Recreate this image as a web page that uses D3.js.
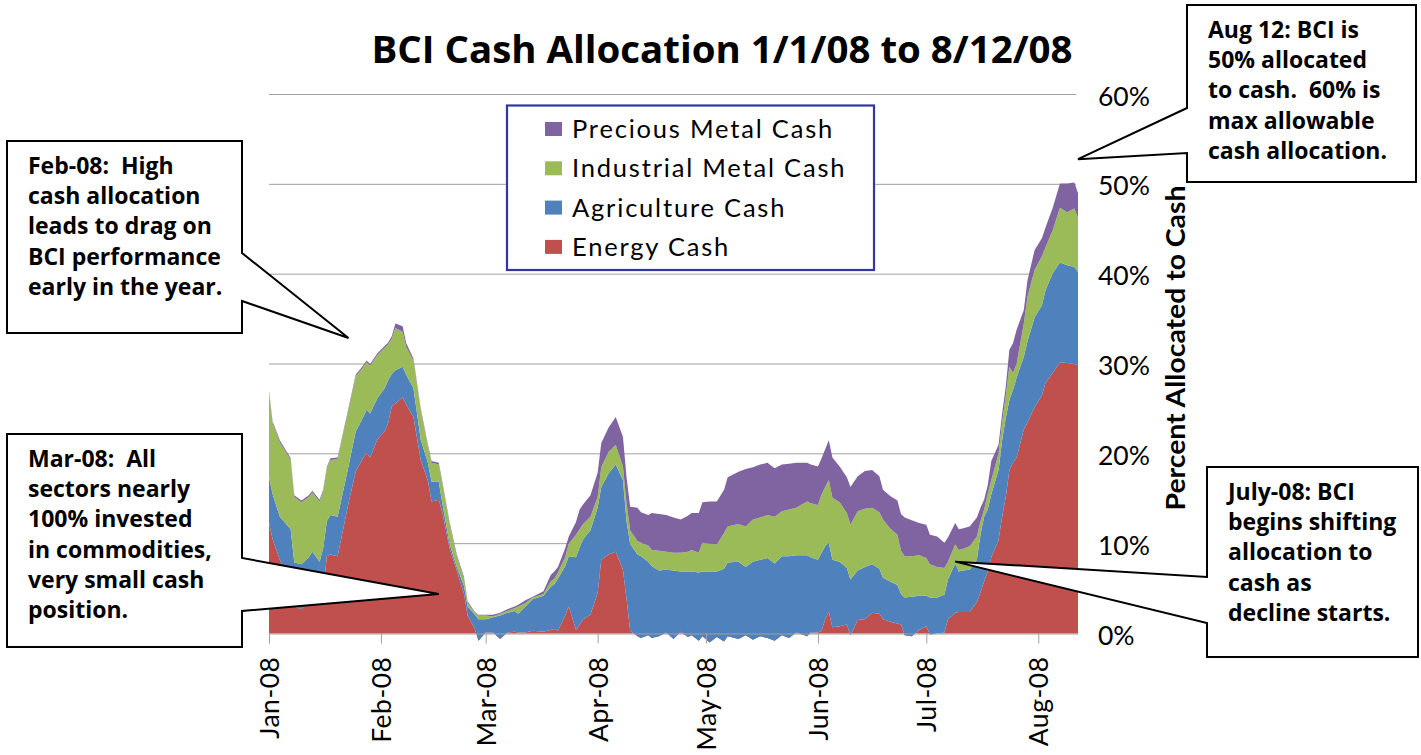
<!DOCTYPE html>
<html>
<head>
<meta charset="utf-8">
<script src="https://cdn.jsdelivr.net/npm/d3@7"></script>
<style>
  body { margin: 0; background: #fff; }
  svg { display: block; }
  text {
    font-variant-ligatures: none;
    font-feature-settings: "liga" 0, "clig" 0, "dlig" 0;
  }
</style>
</head>
<body>
<div id="chart"></div>
<script>
// data (percent of index allocated to cash)
const dates = ["1/1","1/2","1/4","1/7","1/8","1/10","1/12","1/13","1/15","1/16",
  "1/17","1/18","1/20","1/23","1/25","1/27","1/28","1/29","1/31","2/2",
  "2/3","2/4","2/5","2/7","2/8","2/10","2/12","2/14","2/15","2/17",
  "2/18","2/20","2/22","2/24","2/25","2/27","2/28","3/1","3/3","3/5",
  "3/7","3/9","3/10","3/12","3/14","3/17","3/19","3/20","3/21","3/23",
  "3/24","3/26","3/27","3/28","3/30","4/1","4/2","4/4","4/6","4/8",
  "4/9","4/10","4/12","4/13","4/15","4/16","4/18","4/20","4/22","4/24",
  "4/26","4/27","4/29","4/30","5/2","5/4","5/6","5/7","5/10","5/12",
  "5/14","5/16","5/18","5/20","5/22","5/24","5/26","5/29","5/30","6/1",
  "6/2","6/3","6/4","6/5","6/7","6/9","6/10","6/12","6/14","6/16",
  "6/18","6/19","6/21","6/23","6/24","6/25","6/27","6/29","7/1","7/2",
  "7/4","7/6","7/7","7/9","7/10","7/11","7/13","7/15","7/16","7/17",
  "7/18","7/19","7/21","7/22","7/23","7/24","7/25","7/26","7/28","7/29",
  "7/31","8/2","8/3","8/5","8/7","8/9","8/11","8/12"];

const energy = [12.3,10.5,8.2,5.5,3.0,2.7,3.5,4.5,4.0,4.5,
  8.6,8.8,8.6,14.5,18.0,19.5,20.1,19.6,21.6,22.5,
  23.4,25.3,25.6,26.3,25.5,24.1,19.3,17.0,14.7,14.9,
  13.5,9.5,7.0,4.4,2.0,0.5,-0.8,0.1,0.1,-0.6,
  0.1,0.2,0.1,0.1,0.3,0.2,0.4,0.5,0.3,2.0,
  3.0,0.4,1.0,1.6,2.1,4.5,8.2,8.8,9.1,7.1,
  3.8,0.3,-0.3,-0.5,-0.2,-0.5,-0.3,0.1,-0.6,0.2,
  -0.4,-0.2,-0.8,-0.3,-1.0,-0.4,-0.9,-0.3,-0.6,-0.2,
  -0.7,-0.3,-0.5,-0.8,-0.2,-0.5,0.1,-0.3,0.1,0.1,
  0.3,1.6,2.4,0.7,0.8,1.0,-0.2,1.5,1.6,2.3,
  2.2,1.6,1.3,1.1,1.0,-0.2,-0.3,0.4,0.8,-0.1,
  0.0,0.1,1.6,2.3,2.4,2.4,2.4,3.5,4.6,5.8,
  6.9,8.5,10.4,13.0,15.2,18.2,19.0,19.6,22.7,23.5,
  25.2,26.5,27.9,29.0,30.2,30.1,30.0,29.9];

const agriculture = [5.1,5.0,4.8,6.1,4.9,5.0,5.0,4.6,4.0,5.0,
  3.9,4.4,4.4,4.1,4.5,4.5,4.8,4.9,4.6,4.8,
  4.8,3.6,3.7,3.4,3.3,3.2,2.3,2.0,2.2,2.0,
  1.0,0.5,0.4,0.9,1.0,1.6,2.4,1.5,1.7,2.6,
  2.2,2.3,2.1,2.9,3.5,4.0,4.8,5.0,5.8,5.5,
  5.6,8.1,8.6,8.9,9.4,9.5,8.1,9.0,9.7,10.0,
  8.7,9.7,9.1,9.1,8.2,8.0,7.3,7.0,7.6,6.7,
  7.3,7.1,7.6,7.2,7.9,7.3,8.1,8.2,8.6,7.6,
  8.7,8.5,8.9,8.6,8.8,9.1,8.6,9.0,8.4,8.1,
  8.7,8.1,7.7,7.5,7.2,6.3,6.2,5.5,5.8,5.4,
  5.0,4.6,4.5,4.3,3.4,4.2,4.4,3.8,3.4,4.1,
  4.0,4.2,4.4,5.5,4.5,4.6,4.7,4.7,6.4,7.2,
  6.9,7.0,7.8,8.5,8.8,7.8,8.1,8.9,8.1,9.0,
  10.0,10.0,10.3,11.1,11.1,10.9,10.8,10.3];

const industrial = [9.4,7.9,8.3,7.7,7.3,6.9,6.7,6.6,6.7,6.3,
  5.8,6.1,6.4,6.3,6.1,5.6,5.3,5.3,4.8,4.5,
  4.0,3.9,4.7,3.9,3.1,3.1,3.3,1.8,2.1,1.9,
  2.2,2.2,1.2,0.8,0.4,0.2,0.4,0.4,0.1,0.2,
  0.2,0.3,0.8,0.4,0.2,0.2,0.6,0.6,0.7,1.0,
  1.4,2.5,2.0,1.7,1.5,1.2,2.2,2.4,2.2,1.5,
  2.0,1.5,1.5,1.5,1.8,1.8,2.2,2.0,2.0,2.1,
  2.2,2.4,2.2,3.2,3.1,3.0,4.0,4.0,4.2,4.5,
  4.7,4.7,4.8,5.2,5.0,5.2,5.3,6.0,6.0,6.1,
  6.5,6.6,7.0,6.9,6.6,6.1,6.1,6.6,6.5,6.3,
  6.3,6.5,5.9,5.6,4.8,4.6,4.5,4.5,4.2,3.7,
  3.4,3.0,2.0,2.1,2.4,2.4,2.6,2.6,1.5,0.8,
  1.7,1.6,1.8,2.0,2.5,3.7,1.9,1.5,3.7,5.0,
  5.3,5.5,4.8,4.8,6.1,5.9,6.5,6.1];

const precious = [0.2,0.2,0.2,0.2,0.2,0.2,0.2,0.2,0.2,0.2,
  0.2,0.2,0.2,0.2,0.2,0.2,0.2,0.2,0.2,0.2,
  0.2,0.3,0.5,0.6,0.4,0.2,0.2,0.2,0.2,0.2,
  0.2,0.2,0.2,0.2,0.2,0.1,0.1,0.1,0.2,0.1,
  0.2,0.2,0.2,0.3,0.1,0.3,0.7,0.8,0.6,1.0,
  0.8,1.4,2.2,2.2,2.4,2.7,2.7,2.7,3.1,3.3,
  2.9,2.6,3.7,3.4,3.4,4.1,4.1,4.1,3.9,3.7,
  4.0,4.1,4.4,4.5,4.7,4.8,4.8,5.5,5.8,6.4,
  5.8,5.9,5.8,5.4,5.2,5.1,5.0,4.3,4.3,4.3,
  4.0,4.2,4.4,4.5,4.0,4.0,4.2,3.9,4.2,4.2,
  4.0,3.3,3.6,3.8,4.1,4.3,4.0,3.6,3.7,3.3,
  3.4,2.8,2.7,2.4,2.3,2.3,2.2,2.1,1.5,1.1,
  1.0,2.1,1.0,1.0,1.0,1.9,3.3,3.8,1.5,1.8,
  2.2,2.0,2.2,2.5,2.7,3.2,2.9,2.7];

const seriesKeys = ["energy", "agriculture", "industrial", "precious"];
const seriesNames = ["Energy Cash", "Agriculture Cash", "Industrial Metal Cash", "Precious Metal Cash"];
const seriesColors = ["#c0504d", "#4f81bd", "#9bbb59", "#8064a2"];
const yTicks = [0, 10, 20, 30, 40, 50, 60];
const monthTicks = ["1/1","2/1","3/1","4/1","5/1","6/1","7/1","8/1"];

const titleText = "BCI Cash Allocation 1/1/08 to 8/12/08";
const yTitle = "Percent Allocated to Cash";

// callout notes: text, where the pointer lands (date, value)
const notes = [
  { lines: ["Feb-08:  High", "cash allocation", "leads to drag on", "BCI performance", "early in the year."],
    tipDate: "1/23", tipValue: 32.9, box: [7, 141, 242, 333], base: [253, 301], side: "right" },
  { lines: ["Mar-08:  All", "sectors nearly", "100% invested", "in commodities,", "very small cash", "position."],
    tipDate: "2/17", tipValue: 4.4, box: [7, 434, 242, 647], base: [558, 611], side: "right" },
  { lines: ["Aug 12: BCI is", "50% allocated", "to cash.  60% is", "max allowable", "cash allocation."],
    tipDate: "8/12", tipValue: 52.8, box: [1187, 5, 1416, 182], base: [108, 153], side: "left" },
  { lines: ["July-08: BCI", "begins shifting", "allocation to", "cash as", "decline starts."],
    tipDate: "7/9", tipValue: 8.0, box: [1207, 467, 1418, 657], base: [577, 623], side: "left" }
];

let svgWidth = 1421;
let svgHeight = 755;
const margin = { top: 94.5, right: 343, bottom: 121.5, left: 269 };
let width = svgWidth - margin.left - margin.right;
let height = svgHeight - margin.top - margin.bottom;

const parseDate = s => d3.timeParse("%m/%d/%Y")(s + "/2008");

let svg = d3.select("#chart")
  .append("svg")
  .attr("width", svgWidth)
  .attr("height", svgHeight);

let chartGroup = svg.append("g")
  .attr("transform", `translate(${margin.left}, ${margin.top})`);

let rows = dates.map((d, i) => ({
  date: parseDate(d),
  energy: energy[i],
  agriculture: agriculture[i],
  industrial: industrial[i],
  precious: precious[i]
}));

let xScale = d3.scaleTime()
  .domain([parseDate("1/1"), parseDate("8/12")])
  .range([0, width]);

let yScale = d3.scaleLinear()
  .domain([0, 60])
  .range([height, 0]);

// gridlines
chartGroup.append("g")
  .selectAll("line")
  .data(yTicks.filter(t => t > 0))
  .enter()
  .append("line")
  .attr("x1", 0)
  .attr("x2", width - 2)
  .attr("y1", d => yScale(d))
  .attr("y2", d => yScale(d))
  .attr("stroke", "#a0a0a0")
  .attr("stroke-width", 1);

// stacked areas (negatives stack the same way Excel does)
let stacked = d3.stack().keys(seriesKeys)(rows);

let area = d3.area()
  .x(d => xScale(d.data.date))
  .y0(d => yScale(d[0]))
  .y1(d => yScale(d[1]));

chartGroup.selectAll("path.layer")
  .data(stacked)
  .enter()
  .append("path")
  .attr("class", "layer")
  .attr("d", area)
  .attr("fill", (d, i) => seriesColors[i]);

// x axis
let bottomAxis = d3.axisBottom(xScale)
  .tickValues(monthTicks.map(parseDate))
  .tickSize(10)
  .tickSizeOuter(0)
  .tickFormat(d3.timeFormat("%b-%y"));

let xAxis = chartGroup.append("g")
  .attr("transform", `translate(0, ${height})`)
  .call(bottomAxis);

xAxis.select(".domain").attr("stroke", "#a0a0a0");
xAxis.selectAll(".tick line").attr("stroke", "#a0a0a0");
xAxis.selectAll(".tick text")
  .attr("transform", "rotate(-90)")
  .attr("x", -23)
  .attr("y", 0)
  .attr("dy", "0.36em")
  .style("text-anchor", "end")
  .style("font-family", "Lato, 'Open Sans', sans-serif")
  .style("font-size", "26.5px")
  .style("letter-spacing", "0.5px")
  .attr("fill", "#000");

// y axis labels on the right
chartGroup.append("g")
  .selectAll("text")
  .data(yTicks)
  .enter()
  .append("text")
  .attr("x", width + 20)
  .attr("y", d => yScale(d))
  .attr("dy", "0.42em")
  .style("font-family", "Lato, 'Open Sans', sans-serif")
  .style("font-size", "26.5px")
  .text(d => d + "%");

svg.append("text")
  .attr("transform", "translate(1185, 348) rotate(-90)")
  .style("text-anchor", "middle")
  .style("font-family", "Lato, 'Open Sans', sans-serif")
  .style("font-weight", "bold")
  .style("font-size", "27px")
  .attr("textLength", 325)
  .attr("lengthAdjust", "spacingAndGlyphs")
  .text(yTitle);

// title
svg.append("text")
  .attr("x", 722)
  .attr("y", 63)
  .style("text-anchor", "middle")
  .style("font-family", "'Open Sans', sans-serif")
  .style("font-weight", "bold")
  .style("font-size", "38px")
  .attr("textLength", 701)
  .attr("lengthAdjust", "spacingAndGlyphs")
  .text(titleText);

// legend (top item is the top layer)
let legend = svg.append("g").attr("transform", "translate(507, 105.5)");
legend.append("rect")
  .attr("width", 367)
  .attr("height", 164.5)
  .attr("fill", "#fff")
  .attr("stroke", "#3236a0")
  .attr("stroke-width", 2.2);

let legendItems = legend.selectAll("g.item")
  .data(d3.range(seriesKeys.length).reverse())
  .enter()
  .append("g")
  .attr("class", "item")
  .attr("transform", (d, i) => `translate(38, ${23.5 + i * 39.3})`);

legendItems.append("rect")
  .attr("y", -7)
  .attr("width", 17)
  .attr("height", 14)
  .attr("fill", d => seriesColors[d]);

legendItems.append("text")
  .attr("x", 27)
  .attr("dy", "0.36em")
  .style("font-family", "Lato, 'Open Sans', sans-serif")
  .style("font-size", "25.5px")
  .style("letter-spacing", "1.8px")
  .text(d => seriesNames[d]);

// callouts
notes.forEach(function(n) {
  let [l, t, r, b] = n.box;
  let tx = margin.left + xScale(parseDate(n.tipDate));
  let ty = margin.top + yScale(n.tipValue);
  let p;
  if (n.side === "right") {
    p = `M${l},${t}H${r}V${n.base[0]}L${tx},${ty}L${r},${n.base[1]}V${b}H${l}Z`;
  } else {
    p = `M${l},${t}H${r}V${b}H${l}V${n.base[1]}L${tx},${ty}L${l},${n.base[0]}Z`;
  }
  svg.append("path")
    .attr("d", p)
    .attr("fill", "#fff")
    .attr("stroke", "#000")
    .attr("stroke-width", 2)
    .attr("stroke-linejoin", "miter");

  svg.append("g")
    .selectAll("text")
    .data(n.lines)
    .enter()
    .append("text")
    .attr("x", l + 21)
    .attr("y", (d, i) => t + 33 + i * 30.2)
    .style("font-family", "'Open Sans', sans-serif")
    .style("font-weight", "bold")
    .style("font-size", "23px")
    .style("white-space", "pre")
    .text(d => d);
});
</script>
</body>
</html>
